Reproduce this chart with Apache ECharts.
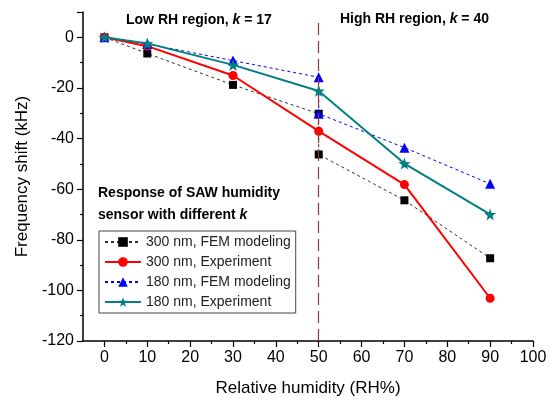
<!DOCTYPE html>
<html>
<head>
<meta charset="utf-8">
<script src="https://cdn.jsdelivr.net/npm/echarts@6/dist/echarts.min.js"></script>
<style>
  html, body { margin: 0; padding: 0; background: #fff; }
  #chart { width: 550px; height: 405px; }
</style>
</head>
<body>
<div id="chart"></div>
<script>
// relative humidity points (FEM has two values at 50%: low / high RH model)
const rhFem = [0, 10, 30, 50, 50, 70, 90];
const rhExp = [0, 10, 30, 50, 70, 90];

const fem300 = [0, -6.4, -18.8, -30.2, -46.3, -64.4, -87.3];
const exp300 = [0, -3.5, -15.1, -37.1, -58.2, -103.1];
const fem180 = [0, -2.6, -9.2, -15.8, -30.2, -43.6, -57.9];
const exp180 = [0, -2.4, -10.9, -21.2, -49.9, -70.0];

const yTicks = [-120, -100, -80, -60, -40, -20, 0];
const xTicks = [0, 10, 20, 30, 40, 50, 60, 70, 80, 90, 100];
const xMinor = [5, 15, 25, 35, 45, 55, 65, 75, 85, 95];

const FONT = 'Liberation Sans, Arial, sans-serif';

function pairs(xs, ys) {
  return xs.map((x, i) => [x, ys[i]]);
}

const chart = echarts.init(document.getElementById('chart'));

const option = {
  animation: false,
  backgroundColor: '#fff',
  grid: { left: 83, right: 17, top: 12, bottom: 64 },
  xAxis: [
    {
      type: 'value',
      min: -5, max: 100, interval: 5,
      name: 'Relative humidity (RH%)',
      nameLocation: 'middle', nameGap: 39,
      nameTextStyle: { fontFamily: FONT, fontSize: 17, color: '#000' },
      axisLine: { onZero: false, lineStyle: { color: '#000', width: 1.5 } },
      axisTick: { customValues: xTicks, length: 6, lineStyle: { color: '#000', width: 1.2 } },
      axisLabel: { customValues: xTicks, fontFamily: FONT, fontSize: 16, color: '#000', margin: 9 },
      splitLine: { show: false }
    },
    {
      type: 'value',
      position: 'bottom',
      min: -5, max: 100, interval: 5,
      axisLine: { show: false, onZero: false },
      axisTick: { customValues: xMinor, length: 3, lineStyle: { color: '#000', width: 1.2 } },
      axisLabel: { show: false },
      splitLine: { show: false }
    }
  ],
  yAxis: {
    type: 'value',
    min: -120, max: 10, interval: 20,
    name: 'Frequency shift (kHz)',
    nameLocation: 'middle', nameGap: 50,
    nameTextStyle: { fontFamily: FONT, fontSize: 17, color: '#000' },
    axisLine: { show: true, onZero: false, lineStyle: { color: '#000', width: 1.5 } },
    axisTick: { show: true, length: 6, lineStyle: { color: '#000', width: 1.2 } },
    minorTick: { show: true, splitNumber: 2, length: 3, lineStyle: { color: '#000', width: 1.2 } },
    axisLabel: {
      fontFamily: FONT, fontSize: 16, color: '#000', margin: 9,
      formatter: v => (yTicks.indexOf(v) >= 0 ? String(v) : '')
    },
    splitLine: { show: false }
  },
  legend: {
    orient: 'vertical',
    left: 99, top: 231,
    width: 190,
    borderColor: '#444', borderWidth: 1,
    padding: [4, 5, 4, 5],
    itemGap: 6, itemWidth: 36, itemHeight: 12,
    textStyle: { fontFamily: FONT, fontSize: 14, color: '#222' },
    data: ['300 nm, FEM modeling', '300 nm, Experiment', '180 nm, FEM modeling', '180 nm, Experiment']
  },
  graphic: [
    {
      type: 'text', left: 126, top: 13,
      style: {
        text: 'Low RH region, {i|k} = 17',
        font: 'bold 14px ' + FONT, fill: '#000',
        rich: { i: { font: 'italic bold 14px ' + FONT } }
      }
    },
    {
      type: 'text', left: 340, top: 12,
      style: {
        text: 'High RH region, {i|k} = 40',
        font: 'bold 14px ' + FONT, fill: '#000',
        rich: { i: { font: 'italic bold 14px ' + FONT } }
      }
    },
    {
      type: 'text', left: 98, top: 182,
      style: {
        text: 'Response of SAW humidity\nsensor with different {i|k}',
        font: 'bold 14px ' + FONT, fill: '#000', lineHeight: 22,
        rich: { i: { font: 'italic bold 14px ' + FONT, lineHeight: 22 } }
      }
    }
  ],
  series: [
    {
      name: '300 nm, FEM modeling',
      type: 'line',
      data: pairs(rhFem, fem300),
      symbol: 'rect', symbolSize: 8,
      itemStyle: { color: '#000' },
      lineStyle: { color: '#333', width: 1, type: [3, 3] },
      z: 2,
      markLine: {
        silent: true, symbol: 'none', label: { show: false },
        lineStyle: { color: '#8e3b3b', width: 1.2, type: [12, 6] },
        data: [[{ coord: [50, -120] }, { coord: [50, 7] }]]
      }
    },
    {
      name: '300 nm, Experiment',
      type: 'line',
      data: pairs(rhExp, exp300),
      symbol: 'circle', symbolSize: 9,
      itemStyle: { color: '#ff0000' },
      lineStyle: { color: '#ff0000', width: 2 },
      z: 3
    },
    {
      name: '180 nm, FEM modeling',
      type: 'line',
      data: pairs(rhFem, fem180),
      symbol: 'triangle', symbolSize: 10,
      itemStyle: { color: '#0000ff' },
      lineStyle: { color: '#0000ff', width: 1, type: [3, 3] },
      z: 4
    },
    {
      name: '180 nm, Experiment',
      type: 'line',
      data: pairs(rhExp, exp180),
      symbol: 'path://M0,-10L2.35,-3.24L9.51,-3.09L3.8,1.24L5.88,8.09L0,4L-5.88,8.09L-3.8,1.24L-9.51,-3.09L-2.35,-3.24Z',
      symbolSize: 12,
      itemStyle: { color: '#008080' },
      lineStyle: { color: '#008080', width: 2 },
      z: 5
    }
  ]
};

chart.setOption(option);
</script>
</body>
</html>
